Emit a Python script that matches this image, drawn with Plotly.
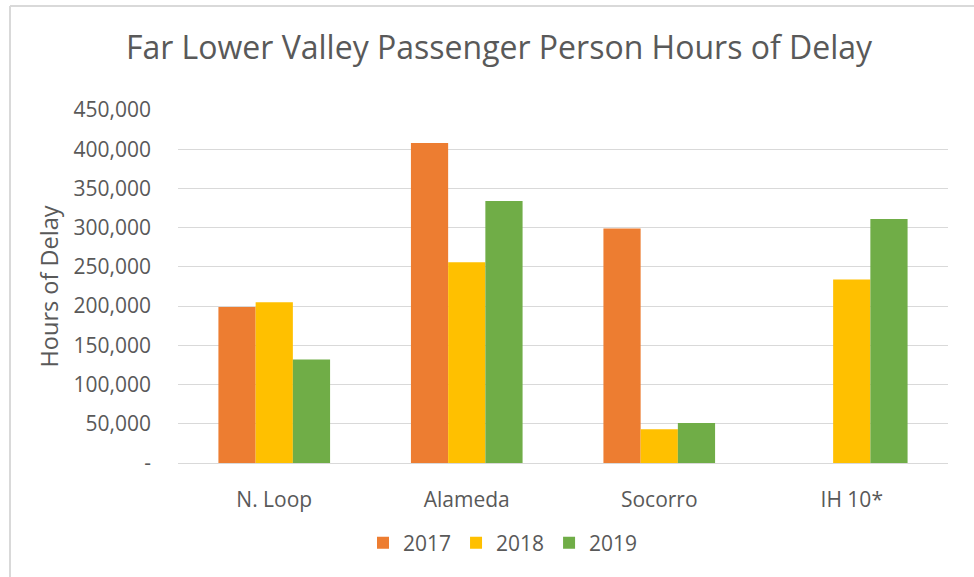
import plotly.graph_objects as go

categories = ["N. Loop", "Alameda", "Socorro", "IH 10*"]
years = ["2017", "2018", "2019"]
values_2017 = [199000, 408000, 299000, None]
values_2018 = [205000, 256000, 43000, 234000]
values_2019 = [132000, 334000, 51000, 311000]
colors = ["#ED7D31", "#FFC000", "#70AD47"]
tick_vals = [0, 50000, 100000, 150000, 200000, 250000, 300000, 350000, 400000, 450000]
tick_text = ["-", "50,000", "100,000", "150,000", "200,000", "250,000",
             "300,000", "350,000", "400,000", "450,000"]

W, H = 974, 577
L, R, T, B = 178, 26, 110, 114
pw, ph = W - L - R, H - T - B

FONT = "Open Sans, Carlito, Calibri, sans-serif"
GRAY = "#595959"

fig = go.Figure()
for name, vals, c in zip(years, [values_2017, values_2018, values_2019], colors):
    fig.add_trace(go.Bar(name=name, x=categories, y=vals, marker_color=c,
                         marker_line_width=0))

fig.update_layout(
    width=W, height=H,
    margin=dict(l=L, r=R, t=T, b=B, autoexpand=False),
    paper_bgcolor="white", plot_bgcolor="white",
    barmode="group", bargap=0.42, bargroupgap=0,
    title=dict(text="Far Lower Valley Passenger Person Hours of Delay",
               x=499 / W, xanchor="center", xref="container",
               y=1 - 48 / H, yanchor="middle", yref="container",
               font=dict(family=FONT, size=32, color=GRAY)),
    font=dict(family=FONT, color=GRAY),
    legend=dict(orientation="h", x=(503 - L) / pw, xanchor="center",
                y=-(543 - (T + ph)) / ph, yanchor="middle",
                font=dict(size=21, color=GRAY), itemwidth=30,
                traceorder="normal"),
    xaxis=dict(showline=True, linecolor="#D9D9D9", linewidth=1,
               tickfont=dict(size=21, color=GRAY), ticks="",
               ticklabelstandoff=18, automargin=False),
    yaxis=dict(range=[0, 450000], tickvals=tick_vals, ticktext=tick_text,
               showgrid=True, gridcolor="#D9D9D9", gridwidth=1,
               zeroline=False, tickfont=dict(size=21, color=GRAY),
               ticklabelstandoff=26, automargin=False,
               title=dict(text="Hours of Delay", standoff=8,
                          font=dict(size=23.5, color=GRAY))),
    shapes=[
        dict(type="line", xref="paper", yref="paper",
             x0=(10 - L) / pw, x1=(W + 5 - L) / pw,
             y0=(H - 6 - B) / ph, y1=(H - 6 - B) / ph,
             line=dict(color="#D9D9D9", width=2)),
        dict(type="line", xref="paper", yref="paper",
             x0=(10 - L) / pw, x1=(10 - L) / pw,
             y0=(H - 6 - B) / ph, y1=-(B + 5) / ph,
             line=dict(color="#D9D9D9", width=2)),
    ],
)

fig.write_html("out.html", config={"displayModeBar": False},
               post_script="document.body.style.margin='0';document.body.style.padding='0';")
